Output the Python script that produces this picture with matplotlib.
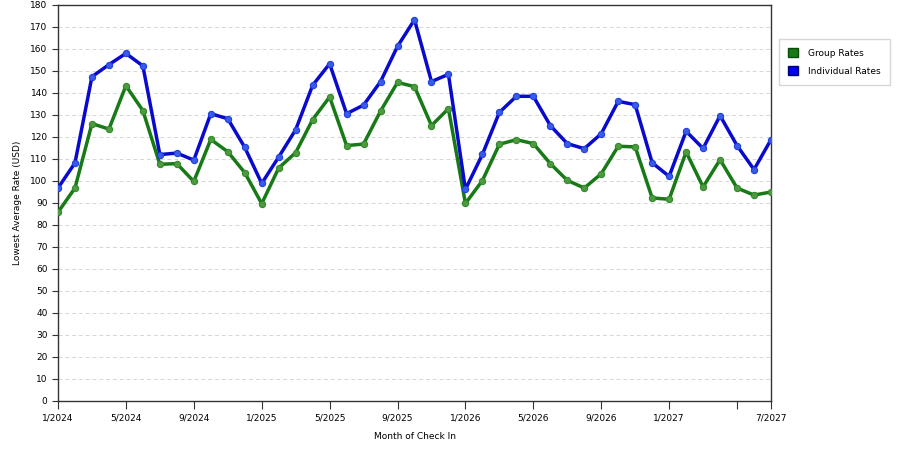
import matplotlib
matplotlib.use("Agg")
import matplotlib.pyplot as plt
from matplotlib.patches import Patch

# monthly lowest average rates, 1/2024 .. 7/2027
months = list(range(43))
group_rates = [
    85.8, 96.8, 126.1, 123.6, 143.3, 132.0, 107.6, 107.9, 99.8, 118.9,
    113.3, 103.8, 89.7, 105.9, 112.9, 127.9, 138.2, 116.1, 116.8, 131.8,
    144.8, 142.9, 125.2, 132.9, 89.8, 100.2, 116.7, 118.8, 117.0, 107.9,
    100.3, 96.8, 103.3, 115.8, 115.5, 92.3, 91.7, 113.2, 97.3, 109.7,
    96.8, 93.6, 95.0,
]
individual_rates = [
    96.8, 108.2, 147.4, 152.9, 158.0, 152.3, 112.0, 112.7, 109.5, 130.6,
    128.3, 115.3, 98.9, 110.9, 123.3, 143.5, 153.3, 130.6, 134.5, 145.2,
    161.2, 173.3, 145.2, 148.5, 96.2, 112.1, 131.2, 138.5, 138.5, 125.2,
    117.0, 114.7, 121.5, 136.2, 134.7, 108.3, 102.1, 122.6, 114.8, 129.7,
    116.1, 105.2, 118.8,
]
tick_pos = [0, 4, 8, 12, 16, 20, 24, 28, 32, 36, 40, 42]
tick_labels = ["1/2024", "5/2024", "9/2024", "1/2025", "5/2025", "9/2025",
               "1/2026", "5/2026", "9/2026", "1/2027", "", "7/2027"]

GREEN = "#177a17"
BLUE = "#0a0acc"

plt.rcParams["font.family"] = "DejaVu Sans"
fig = plt.figure(figsize=(9, 4.5), dpi=100)
ax = fig.add_axes([58 / 900, 49 / 450, 713 / 900, 396 / 450])

ax.plot(months, group_rates, color=GREEN, lw=2.5, marker="o", ms=4.5,
        mfc="#4f9a3f", mec="#2f8a2a", mew=0.8, zorder=3)
ax.plot(months, individual_rates, color=BLUE, lw=2.5, marker="o", ms=4.5,
        mfc="#3a5ae8", mec="#2040e0", mew=0.8, zorder=4)

ax.set_xlim(0, 42)
ax.set_ylim(0, 180)
ax.set_yticks(range(0, 181, 10))
ax.set_xticks(tick_pos)
ax.set_xticklabels(tick_labels)
ax.tick_params(axis="both", labelsize=6.5, color="#333333", length=4, width=0.8)
ax.tick_params(axis="x", length=6, pad=3)
for y in range(10, 180, 10):
    ax.axhline(y, color="#d6d6d6", lw=0.7, ls=(0, (4, 3)), zorder=1)
for s in ax.spines.values():
    s.set_color("#333333")
    s.set_linewidth(1.0)

ax.set_ylabel("Lowest Average Rate (USD)", fontsize=6.5, labelpad=6)
ax.set_xlabel("Month of Check In", fontsize=6.5, labelpad=7)

handles = [Patch(facecolor=GREEN, edgecolor="#0a4a0a", label="Group Rates"),
           Patch(facecolor="#0000ee", edgecolor="#00007a", label="Individual Rates")]
fig.legend(handles=handles, loc="upper left", bbox_to_anchor=(779 / 900, 1 - 39 / 450),
           borderaxespad=0, fontsize=6.5, frameon=True, fancybox=False,
           edgecolor="#cccccc", handlelength=1.1, handleheight=1.2, borderpad=1.0,
           labelspacing=0.9, handletextpad=1.1)

fig.savefig("out.png", dpi=100)
